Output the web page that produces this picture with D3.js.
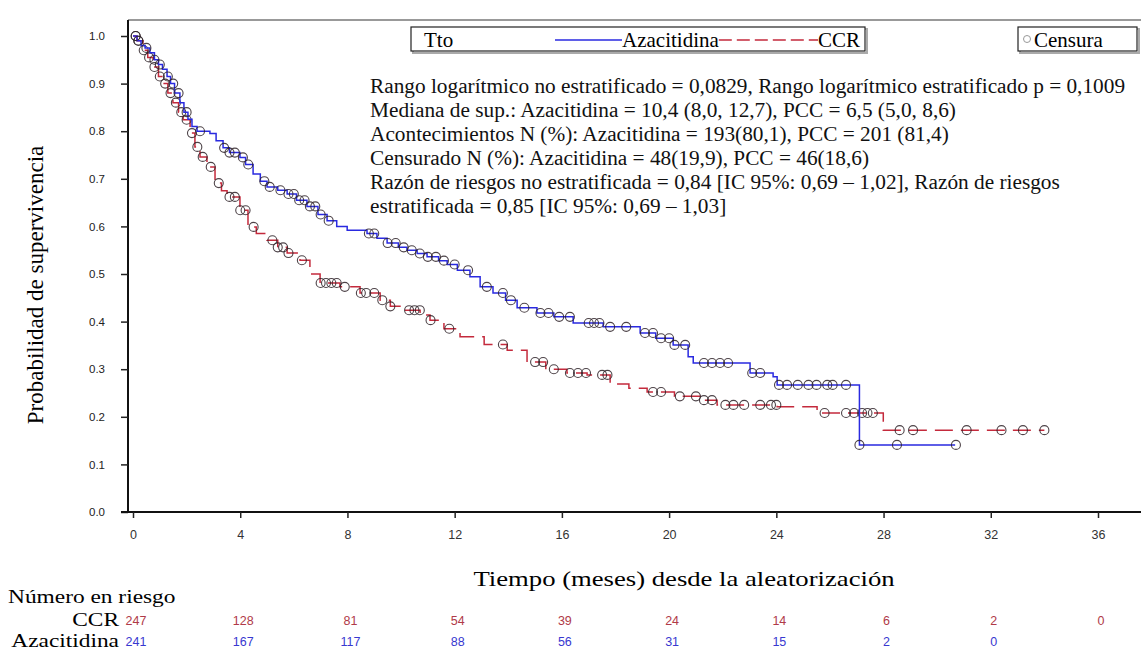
<!DOCTYPE html>
<html>
<head>
<meta charset="utf-8">
<script src="https://cdn.jsdelivr.net/npm/d3@7"></script>
<style>
body { margin: 0; background: #fff; }
svg { display: block; }
</style>
</head>
<body>
<div id="chart"></div>
<script>
// KM step points (time in months, survival)
const azaTime = [0, 0.15, 0.3, 0.45, 0.63, 0.8, 0.95, 1.1, 1.27, 1.4, 1.55, 1.75, 1.9, 2.05, 2.2, 2.39, 2.87, 3.1, 3.36, 3.6, 3.99, 4.2, 4.48, 4.75, 5.0, 5.4, 5.75, 6.1, 6.49, 6.9, 7.24, 7.6, 7.99, 8.73, 9.1, 9.48, 9.9, 10.22, 10.6, 10.97, 11.4, 11.72, 12.1, 12.57, 12.95, 13.43, 13.9, 14.33, 15.07, 15.7, 16.42, 17.54, 18.92, 19.5, 20.15, 20.71, 20.9, 23.02, 23.88, 24.03, 27.1];
const azaSurv = [1.0, 0.99, 0.98, 0.975, 0.965, 0.95, 0.94, 0.93, 0.915, 0.90, 0.88, 0.86, 0.84, 0.825, 0.81, 0.80, 0.795, 0.78, 0.765, 0.755, 0.745, 0.73, 0.71, 0.695, 0.683, 0.676, 0.668, 0.655, 0.642, 0.625, 0.612, 0.60, 0.592, 0.585, 0.575, 0.565, 0.556, 0.55, 0.543, 0.536, 0.528, 0.52, 0.508, 0.494, 0.473, 0.46, 0.445, 0.429, 0.418, 0.41, 0.397, 0.389, 0.376, 0.365, 0.351, 0.326, 0.313, 0.292, 0.284, 0.267, 0.141];
const azaEnd = 30.67;

const ccrTime = [0, 0.15, 0.37, 0.55, 0.75, 0.95, 1.12, 1.3, 1.49, 1.7, 1.87, 2.13, 2.31, 2.5, 2.76, 3.06, 3.3, 3.51, 3.99, 4.29, 4.6, 5.0, 5.4, 5.75, 6.23, 6.6, 6.98, 7.72, 8.47, 9.22, 9.6, 9.96, 10.71, 11.08, 11.6, 12.2, 13.1, 13.96, 14.7, 15.4, 16.19, 16.94, 17.8, 18.5, 19.18, 20.2, 21.16, 21.79, 24.03, 25.52, 27.99];
const ccrSurv = [1.0, 0.99, 0.97, 0.955, 0.935, 0.915, 0.90, 0.88, 0.86, 0.84, 0.824, 0.796, 0.767, 0.746, 0.725, 0.691, 0.675, 0.662, 0.634, 0.599, 0.585, 0.571, 0.556, 0.544, 0.529, 0.50, 0.481, 0.473, 0.46, 0.445, 0.432, 0.424, 0.414, 0.403, 0.385, 0.368, 0.352, 0.34, 0.315, 0.30, 0.292, 0.288, 0.269, 0.26, 0.252, 0.243, 0.235, 0.225, 0.221, 0.208, 0.172];
const ccrEnd = 34.0;

// censored times
const azaCens = [0.1, 0.2, 0.5, 0.8, 1.0, 1.3, 1.5, 1.7, 2.0, 2.5, 3.4, 3.6, 3.8, 4.1, 4.3, 4.9, 5.1, 5.5, 5.8, 6.0, 6.2, 6.4, 6.6, 6.8, 7.0, 7.3, 8.8, 9.0, 9.5, 9.8, 10.1, 10.4, 10.7, 11.0, 11.3, 11.6, 12.0, 12.5, 13.2, 13.8, 14.1, 14.6, 15.2, 15.5, 15.9, 16.3, 17.0, 17.2, 17.4, 17.8, 18.4, 19.1, 19.4, 19.7, 20.0, 20.2, 20.6, 21.3, 21.6, 21.9, 22.2, 23.1, 23.4, 24.1, 24.4, 24.8, 25.2, 25.5, 25.9, 26.1, 26.6, 27.1, 28.5, 30.7];
const ccrCens = [0.1, 0.2, 0.4, 0.6, 0.8, 1.0, 1.2, 1.4, 1.6, 1.8, 2.0, 2.2, 2.4, 2.6, 2.9, 3.2, 3.6, 3.8, 4.0, 4.2, 4.5, 5.2, 5.4, 5.6, 5.8, 6.3, 7.0, 7.2, 7.4, 7.6, 7.9, 8.5, 8.7, 9.0, 9.3, 9.6, 10.3, 10.5, 10.7, 11.1, 11.8, 13.8, 15.0, 15.3, 15.7, 16.3, 16.6, 16.9, 17.5, 17.7, 19.4, 19.7, 20.4, 21.0, 21.3, 21.6, 22.1, 22.4, 22.8, 23.4, 23.8, 24.0, 25.8, 26.6, 26.9, 27.2, 27.4, 27.6, 28.6, 29.1, 31.1, 32.4, 33.2, 34.0];

// numbers at risk
const riskTimes = [0, 4, 8, 12, 16, 20, 24, 28, 32, 36];
const riskCCR = [247, 128, 81, 54, 39, 24, 14, 6, 2, 0];
const riskAza = [241, 167, 117, 88, 56, 31, 15, 2, 0];

const xTicks = [0, 4, 8, 12, 16, 20, 24, 28, 32, 36];
const yTicks = [0, 0.1, 0.2, 0.3, 0.4, 0.5, 0.6, 0.7, 0.8, 0.9, 1.0];

const statLines = [
	"Rango logarítmico no estratificado = 0,0829, Rango logarítmico estratificado p = 0,1009",
	"Mediana de sup.: Azacitidina = 10,4 (8,0, 12,7), PCC = 6,5 (5,0, 8,6)",
	"Acontecimientos N (%): Azacitidina = 193(80,1), PCC = 201 (81,4)",
	"Censurado N (%): Azacitidina = 48(19,9), PCC = 46(18,6)",
	"Razón de riesgos no estratificada = 0,84 [IC 95%: 0,69 – 1,02], Razón de riesgos",
	"estratificada = 0,85 [IC 95%: 0,69 – 1,03]"
];

const blue = "#2a2ae0", red = "#c42a3c";
const serif = "'Liberation Serif', 'Times New Roman', serif";
const sans = "'Liberation Sans', Arial, sans-serif";

const width = 1141, height = 651;
const svg = d3.select("#chart").append("svg").attr("width", width).attr("height", height);

const x = d3.scaleLinear().domain([0, 36]).range([133, 1098]);
const y = d3.scaleLinear().domain([0, 1]).range([512, 36]);

// frame top
svg.append("line").attr("x1", 128).attr("x2", width).attr("y1", 20).attr("y2", 20)
	.attr("stroke", "#777").attr("stroke-width", 1.5);

// y axis
const yAxis = svg.append("g").attr("transform", "translate(128,0)")
	.call(d3.axisLeft(y).tickValues(yTicks).tickFormat(d3.format(".1f")).tickSize(7).tickPadding(16));
yAxis.select(".domain").attr("d", `M0,20V512`).attr("stroke", "#111").attr("stroke-width", 2);
yAxis.selectAll(".tick line").attr("stroke", "#222").attr("stroke-width", 1.5);
yAxis.selectAll(".tick text").style("font-family", sans).style("font-size", "11.5px").attr("fill", "#222");

// x axis
const xAxis = svg.append("g").attr("transform", "translate(0,512)")
	.call(d3.axisBottom(x).tickValues(xTicks).tickSize(6).tickPadding(12));
xAxis.select(".domain").attr("d", `M121,0H${width}`).attr("stroke", "#111").attr("stroke-width", 2);
xAxis.selectAll(".tick line").attr("stroke", "#222").attr("stroke-width", 1.5);
xAxis.selectAll(".tick text").style("font-family", sans).style("font-size", "12.5px").attr("fill", "#333");

// step curves
const step = d3.line().x(d => x(d[0])).y(d => y(d[1])).curve(d3.curveStepAfter);

function survAt(times, surv, t)
{
	let s = surv[0];
	for (let i = 0; i < times.length; i++) if (times[i] <= t) s = surv[i];
	return s;
}

function drawCurve(times, surv, end, cens, color, dash)
{
	const pts = times.map((t, i) => [t, surv[i]]);
	pts.push([end, surv[surv.length - 1]]);
	svg.append("path").datum(pts)
		.attr("d", step)
		.attr("fill", "none")
		.attr("stroke", color)
		.attr("stroke-width", 1.5)
		.attr("stroke-dasharray", dash);

	svg.append("g").selectAll("circle").data(cens).enter().append("circle")
		.attr("cx", d => x(d))
		.attr("cy", d => y(survAt(times, surv, d)))
		.attr("r", 4.5)
		.attr("fill", "none")
		.attr("stroke", "#2e2228")
		.attr("stroke-opacity", 0.85)
		.attr("stroke-width", 1.1);
}

drawCurve(ccrTime, ccrSurv, ccrEnd, ccrCens, red, "18,8");
drawCurve(azaTime, azaSurv, azaEnd, azaCens, blue, null);

// legend boxes (shadowed)
const lg = svg.append("g").style("font-family", serif).style("font-size", "21px");
function box(x0, w)
{
	lg.append("rect").attr("x", x0 + 2).attr("y", 29).attr("width", w).attr("height", 24)
		.attr("fill", "none").attr("stroke", "#aaa").attr("stroke-width", 2);
	lg.append("rect").attr("x", x0).attr("y", 27).attr("width", w).attr("height", 24)
		.attr("fill", "#fff").attr("stroke", "#222").attr("stroke-width", 1.2);
}
box(411, 454);
lg.append("text").attr("x", 424).attr("y", 47).text("Tto");
lg.append("line").attr("x1", 555).attr("x2", 622).attr("y1", 40).attr("y2", 40).attr("stroke", blue).attr("stroke-width", 1.5);
const azaLab = lg.append("text").attr("x", 622).attr("y", 47).text("Azacitidina");
const azaEndX = 622 + azaLab.node().getComputedTextLength();
lg.append("line").attr("x1", azaEndX).attr("x2", 818).attr("y1", 40).attr("y2", 40).attr("stroke", red).attr("stroke-width", 1.5).attr("stroke-dasharray", "13,5");
lg.append("text").attr("x", 818).attr("y", 47).text("CCR");

box(1018, 119);
lg.append("circle").attr("cx", 1027).attr("cy", 39).attr("r", 3.5).attr("fill", "none").attr("stroke", "#999");
lg.append("text").attr("x", 1034).attr("y", 47).text("Censura");

// stats annotation
svg.append("g").selectAll("text").data(statLines).enter().append("text")
	.attr("x", 370)
	.attr("y", (d, i) => 93 + i * 24)
	.style("font-family", serif)
	.style("font-size", "21.3px")
	.attr("fill", "#111")
	.text(d => d);

// serif label, a bit wider than tall like the scanned original
function wideText(tx, ty, str, size, sx, anchor)
{
	return svg.append("text")
		.attr("transform", `translate(${tx},${ty}) scale(${sx},1)`)
		.attr("text-anchor", anchor || "start")
		.style("font-family", serif).style("font-size", size + "px")
		.text(str);
}

// axis titles
svg.append("text")
	.attr("transform", "translate(43,285) rotate(-90)")
	.attr("text-anchor", "middle")
	.style("font-family", serif).style("font-size", "23px")
	.text("Probabilidad de supervivencia");

wideText(684, 586, "Tiempo (meses) desde la aleatorización", 21, 1.27, "middle");

// number at risk table
wideText(8, 603, "Número en riesgo", 19.5, 1.2);
wideText(119, 626, "CCR", 19.5, 1.2, "end");
wideText(119, 647, "Azacitidina", 19.5, 1.2, "end");

svg.append("g").selectAll("text").data(riskCCR).enter().append("text")
	.attr("x", (d, i) => x(riskTimes[i]) + 3)
	.attr("y", 625)
	.attr("text-anchor", "middle")
	.style("font-family", sans).style("font-size", "12.5px")
	.attr("fill", "#b03a48")
	.text(d => d);

svg.append("g").selectAll("text").data(riskAza).enter().append("text")
	.attr("x", (d, i) => x(riskTimes[i]) + 3)
	.attr("y", 646)
	.attr("text-anchor", "middle")
	.style("font-family", sans).style("font-size", "12.5px")
	.attr("fill", "#3838d0")
	.text(d => d);
</script>
</body>
</html>
